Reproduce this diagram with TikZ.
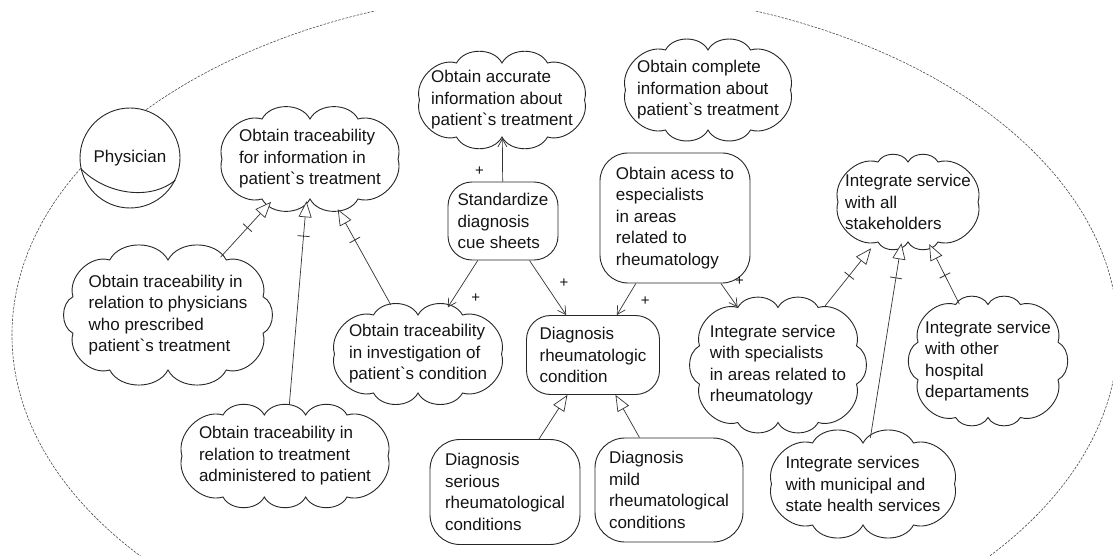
\documentclass[tikz,border=0pt]{standalone}
\usepackage{fontspec}
\setmainfont{Liberation Sans}
\usetikzlibrary{arrows.meta,decorations.markings,backgrounds}
\newcommand\gv{\textasciigrave}
% cloud outline: #1 node, #2 half width, #3 half height, #4 top bumps, #5 side bumps
\newcommand\cloudline[5]{%
  \begin{scope}[shift={(#1.center)},x=1pt,y=1pt]
    \pgfmathsetmacro\cA{#2-10}
    \pgfmathsetmacro\cB{#3-10}
    \pgfmathsetmacro\cE{2*\cB/(#5+2)}
    \pgfmathsetmacro\cS{(2*\cA-2*\cE)/#4}
    \pgfmathsetmacro\cT{(2*\cB-2*\cE)/max(#5,1)}
    \filldraw[softline] ({\cA-\cE},\cB)
      \foreach \k in {1,...,#4} { to[bend right=62] ({\cA-\cE-\k*\cS},\cB) }
      to[bend right=62] (-\cA,{\cB-\cE})
      \ifnum#5>0 \foreach \k in {1,...,#5} { to[bend right=62] (-\cA,{\cB-\cE-\k*\cT}) }\fi
      to[bend right=62] ({-\cA+\cE},-\cB)
      \foreach \k in {1,...,#4} { to[bend right=62] ({-\cA+\cE+\k*\cS},-\cB) }
      to[bend right=62] (\cA,{-\cB+\cE})
      \ifnum#5>0 \foreach \k in {1,...,#5} { to[bend right=62] (\cA,{-\cB+\cE+\k*\cT}) }\fi
      to[bend right=62] ({\cA-\cE},\cB) -- cycle;
  \end{scope}}
\begin{document}
\begin{tikzpicture}[x=1pt,y=-1pt,
  font=\fontsize{17}{21.5}\selectfont,
  every node/.style={text=black!92},
  softgoal/.style={rectangle, align=left, inner sep=0pt},
  softline/.style={draw=black!85, line width=0.9pt, fill=white},
  goal/.style={rectangle, rounded corners=24pt, draw=black!85, line width=0.9pt,
    fill=white, align=left, inner sep=0pt},
  actor/.style={circle, draw=black!85, line width=0.9pt, fill=white, minimum size=100pt, inner sep=0pt},
  boundary/.style={draw=black!70, line width=0.6pt, dash pattern=on 2.5pt off 1.3pt},
  contrib/.style={draw=black!80, line width=0.7pt, -{Straight Barb[length=8pt,width=9pt]}},
  isa/.style={draw=black!80, line width=0.7pt, -{Triangle[length=16pt,width=13pt,fill=white]}},
  tick/.style={postaction={decorate, decoration={markings,
    mark=at position #1 with {\draw[arrows=-,shorten <=0pt,shorten >=0pt,line width=0.8pt,black!80] (0pt,-6pt) -- (0pt,6pt);}}}},
  tick/.default=-35pt,
  lbl/.style={inner sep=0pt, font=\fontsize{15}{18}\selectfont}
]
\useasboundingbox (0,0) rectangle (1113,556);
% actor
\node[actor] (phys) at (130,158) {Physician};
\draw[line width=0.9pt, black!85] (phys.192) .. controls +(25,26) and +(-25,21) .. (phys.-26);

% softgoals (text + frame for anchors)
\node[softgoal, minimum width=196pt, minimum height=100pt] (c1) at (310,159)
  {Obtain traceability\\for information in\\patient\gv s treatment};
\node[softgoal, minimum width=185pt, minimum height=94pt] (c2) at (502,100)
  {Obtain accurate\\information about\\patient\gv s treatment};
\node[softgoal, minimum width=185pt, minimum height=100pt] (c3) at (708,90)
  {Obtain complete\\information about\\patient\gv s treatment};
\node[softgoal, minimum width=160pt, minimum height=100pt] (c4) at (908,202)
  {Integrate service\\with all\\stakeholders};
\node[softgoal, minimum width=210pt, minimum height=130pt] (c5) at (168,315)
  {Obtain traceability in\\relation to physicians\\who prescribed\\patient\gv s treatment};
\node[softgoal, minimum width=187pt, minimum height=98pt] (c6) at (418,354)
  {Obtain traceability\\in investigation of\\patient\gv s condition};
\node[softgoal, minimum width=226pt, minimum height=102pt] (c7) at (285,456)
  {Obtain traceability in\\relation to treatment\\administered to patient};
\node[softgoal, minimum width=177pt, minimum height=135pt] (c8) at (778,365)
  {Integrate service\\with specialists\\in areas related to\\rheumatology};
\node[softgoal, minimum width=160pt, minimum height=133pt] (c9) at (988,361)
  {Integrate service\\with other\\hospital\\departaments};
\node[softgoal, minimum width=203pt, minimum height=102pt] (c10) at (863,484)
  {Integrate services\\with municipal and\\state health services};

\begin{pgfonlayer}{background}
  \fill[white] (0,0) rectangle (1113,556);
  \begin{scope}
    \clip (0,12) rectangle (1113,556);
    \draw[boundary] (565,335) ellipse [x radius=553, y radius=345];
  \end{scope}
  \cloudline{c1}{98}{50}{2}{0}
  \cloudline{c2}{92.5}{47}{2}{0}
  \cloudline{c3}{92.5}{50}{2}{0}
  \cloudline{c4}{80}{50}{2}{0}
  \cloudline{c5}{105}{65}{2}{1}
  \cloudline{c6}{93.5}{49}{2}{0}
  \cloudline{c7}{113}{51}{3}{0}
  \cloudline{c8}{88.5}{67.5}{2}{1}
  \cloudline{c9}{80}{66.5}{2}{1}
  \cloudline{c10}{101.5}{51}{2}{0}
\end{pgfonlayer}

% goals
\node[goal, minimum width=110pt, minimum height=78pt] (gA) at (503,221)
  {Standardize\\diagnosis\\cue sheets};
\node[goal, minimum width=150pt, minimum height=130pt, rounded corners=28pt] (gB) at (675,218)
  {Obtain acess to\\especialists\\in areas\\related to\\rheumatology};
\node[goal, minimum width=133pt, minimum height=79pt] (gC) at (593,355)
  {Diagnosis\\rheumatologic\\condition};
\node[goal, minimum width=150pt, minimum height=105pt, rounded corners=30pt] (gD) at (505,492)
  {Diagnosis\\serious\\rheumatological\\conditions};
\node[goal, minimum width=148pt, minimum height=104pt, rounded corners=30pt] (gE) at (669,490)
  {Diagnosis\\mild\\rheumatological\\conditions};

% is-a style links
\draw[isa,tick=-25pt,shorten <=-10pt,shorten >=-10pt] (c5) -- (c1);
\draw[isa,tick=-27pt,shorten >=-8pt] (c7) -- (c1);
\draw[isa,tick] (c6) -- (c1);
\draw[isa,tick=-30pt,shorten <=-11pt,shorten >=-5pt] (c8) -- (c4);
\draw[isa,tick=-26pt,shorten <=-5pt,shorten >=-9pt] (c10) -- (c4);
\draw[isa,tick=-26pt,shorten <=-11pt,shorten >=-9pt] (c9) -- (c4);
\draw[isa] (gD) -- (gC);
\draw[isa] (gE) -- (gC);

% contributions
\draw[contrib,shorten >=-9pt] (gA) -- (c2) node[lbl, pos=0.3, xshift=-23pt] {+};
\draw[contrib,shorten >=-3pt] (gA) -- (c6) node[lbl, pos=0.85, xshift=22pt] {+};
\draw[contrib] (gA) -- (gC) node[lbl, pos=0.42, xshift=19pt] {+};
\draw[contrib] (gB) -- (gC) node[lbl, pos=0.56, xshift=20pt] {+};
\draw[contrib,shorten >=-12pt] (gB) -- (c8) node[lbl, pos=0.05, xshift=18pt, yshift=3pt] {+};
\end{tikzpicture}
\end{document}
